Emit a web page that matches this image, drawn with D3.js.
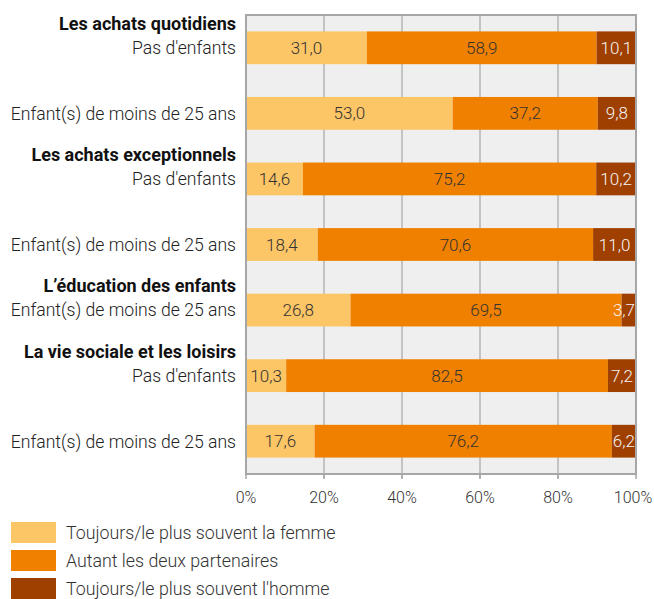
<!DOCTYPE html>
<html>
<head>
<meta charset="utf-8">
<script src="https://cdn.jsdelivr.net/npm/d3@7"></script>
<style>
  html, body { margin: 0; padding: 0; background: #fff; }
  svg { display: block; font-family: Roboto, "Noto Sans", sans-serif; }
</style>
</head>
<body>
<svg id="chart" width="654" height="599"></svg>
<script>
// ---- Data ----
const groupLabels = ["Les achats quotidiens", "", "Les achats exceptionnels", "", "L\u2019éducation des enfants", "La vie sociale et les loisirs", ""];
const rowLabels = ["Pas d'enfants", "Enfant(s) de moins de 25 ans", "Pas d'enfants", "Enfant(s) de moins de 25 ans", "Enfant(s) de moins de 25 ans", "Pas d'enfants", "Enfant(s) de moins de 25 ans"];
const femme = [31.0, 53.0, 14.6, 18.4, 26.8, 10.3, 17.6];
const deux = [58.9, 37.2, 75.2, 70.6, 69.5, 82.5, 76.2];
const homme = [10.1, 9.8, 10.2, 11.0, 3.7, 7.2, 6.2];
const seriesNames = ["Toujours/le plus souvent la femme", "Autant les deux partenaires", "Toujours/le plus souvent l'homme"];
const tickValues = [0, 20, 40, 60, 80, 100];

(function () {
const colors = ["#fcc566", "#f08000", "#a04000"];
const textColors = ["#333", "#333", "#f4f4f4"];

const svg = d3.select("#chart");
const pL = 246, pR = 636, pT = 15, pB = 474;

const x = d3.scaleLinear().domain([0, 100]).range([pL, pR]);
const y = d3.scaleBand().domain(d3.range(rowLabels.length)).range([pT, pB]).paddingInner(0.5).paddingOuter(0.25);

// background
svg.append("rect").attr("x", pL).attr("y", pT).attr("width", pR - pL).attr("height", pB - pT).attr("fill", "#efefef");

// grid
svg.append("g").selectAll("line").data(tickValues.slice(1, -1)).join("line")
  .attr("x1", d => x(d)).attr("x2", d => x(d)).attr("y1", pT).attr("y2", pB + 4)
  .attr("stroke", "#b4b4b4").attr("stroke-width", 1.5);

// stacked data
const rows = rowLabels.map((r, i) => [femme[i], deux[i], homme[i]]);
const stackData = rows.map((vals, i) => {
  let acc = 0;
  return vals.map((v, s) => { const d = { i, s, v, x0: acc, x1: acc + v }; acc += v; return d; });
}).flat();

svg.append("g").selectAll("rect").data(stackData).join("rect")
  .attr("x", d => x(d.x0)).attr("width", d => x(d.x1) - x(d.x0))
  .attr("y", d => y(d.i)).attr("height", y.bandwidth())
  .attr("fill", d => colors[d.s]);

// frame
const frame = svg.append("g").attr("fill", "none").attr("stroke", "#a6a6a6").attr("stroke-width", 2);
frame.append("rect").attr("x", pL).attr("y", pT).attr("width", pR - pL).attr("height", pB - pT);
frame.selectAll("line").data(tickValues).join("line")
  .attr("x1", d => x(d)).attr("x2", d => x(d)).attr("y1", pB).attr("y2", pB + 5)
  .attr("stroke-width", 1.5);

// value labels
const fmt = v => v.toFixed(1).replace(".", ",");
svg.append("g").selectAll("text").data(stackData).join("text")
  .attr("x", d => (x(d.x1) - x(d.x0)) < 22 ? x(d.x1) - 1 : (x(d.x0) + x(d.x1)) / 2)
  .attr("text-anchor", d => (x(d.x1) - x(d.x0)) < 22 ? "end" : "middle")
  .attr("y", d => y(d.i) + y.bandwidth() / 2)
  .attr("dy", "0.36em")
  .attr("font-size", 17).attr("font-weight", 300)
  .attr("fill", d => textColors[d.s])
  .text(d => fmt(d.v));

// row labels
svg.append("g").selectAll("text").data(rowLabels).join("text")
  .attr("x", pL - 10).attr("text-anchor", "end")
  .attr("y", (d, i) => y(i) + y.bandwidth() / 2).attr("dy", "0.36em")
  .attr("font-size", 17.6).attr("font-weight", 300).attr("fill", "#222")
  .text(d => d);

// group labels
svg.append("g").selectAll("text").data(groupLabels.map((g, i) => ({ g, i })).filter(d => d.g)).join("text")
  .attr("x", pL - 10).attr("text-anchor", "end")
  .attr("y", d => y(d.i) - 8).attr("dy", "0.36em")
  .attr("font-size", 18).attr("font-weight", 700).attr("fill", "#111")
  .text(d => d.g);

// x axis labels
svg.append("g").selectAll("text").data(tickValues).join("text")
  .attr("x", d => x(d) - (d === 100 ? 3 : 0)).attr("y", 497).attr("dy", "0.36em").attr("text-anchor", "middle")
  .attr("font-size", 16).attr("font-weight", 300).attr("fill", "#333")
  .text(d => d + "%");

// legend
const lg = svg.append("g").selectAll("g").data(seriesNames).join("g")
  .attr("transform", (d, i) => `translate(11, ${522 + i * 28})`);
lg.append("rect").attr("width", 45).attr("height", 21).attr("fill", (d, i) => colors[i]);
lg.append("text").attr("x", 55).attr("y", 10.5).attr("dy", "0.36em")
  .attr("font-size", 17.8).attr("font-weight", 300).attr("fill", "#333").text(d => d);
})();
</script>
</body>
</html>
